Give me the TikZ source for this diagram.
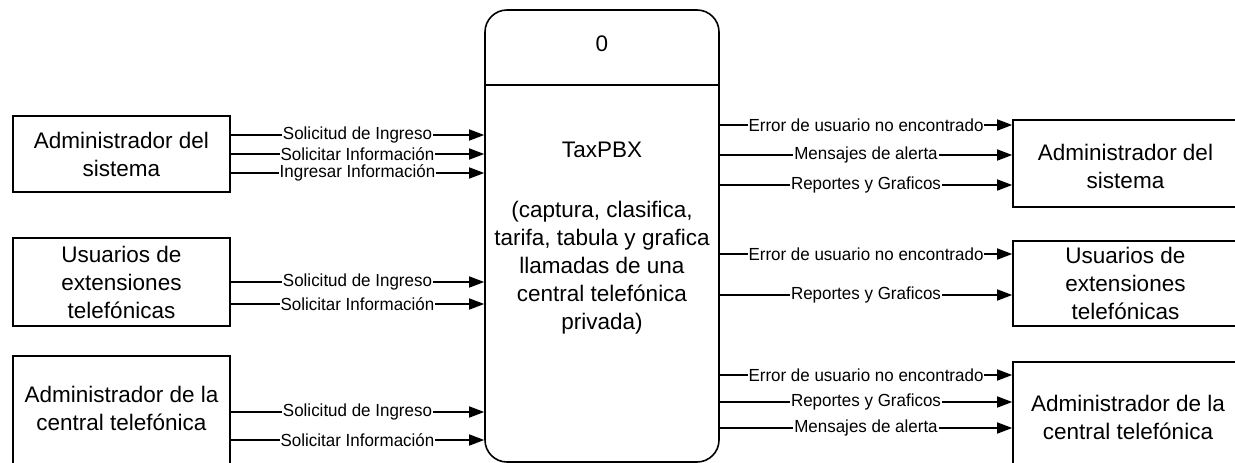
\documentclass[tikz,border=0pt]{standalone}
\usepackage{fontspec}
\setmainfont{Liberation Sans}
\newfontfamily\narrowfont[FakeStretch=0.97]{Liberation Sans}
\usetikzlibrary{arrows.meta}
\begin{document}
\begin{tikzpicture}[x=1pt,y=-1pt,
  ent/.style={draw, line width=1.6pt, inner sep=0pt, align=center,
    font=\fontsize{22.5}{28}\selectfont},
  txt/.style={inner sep=0pt, align=center, font=\fontsize{22.5}{28}\selectfont},
  lbl/.style={fill=white, inner xsep=1pt, inner ysep=0pt, font=\narrowfont\fontsize{17.5}{18}\selectfont},
  flow/.style={line width=1.6pt, -{Triangle[length=15pt,width=11pt]}}
]
\clip (0,0) rectangle (1235,463);
\fill[white] (0,0) rectangle (1235,463);

% process
\node (p) [draw, line width=1.6pt, rounded corners=22pt, minimum width=234pt, minimum height=452pt, inner sep=0pt] at (602,236) {};
\draw[line width=1.6pt] (p.west |- 0,85) -- (p.east |- 0,85);
\node (pid) [txt] at (602,44) {0};
\node (pname) [txt] at (602,150) {TaxPBX};
\node (pdesc) [txt] at (602,268) {(captura, clasifica,\\tarifa, tabula y grafica\\llamadas de una\\central telefónica\\privada)};

% left entities
\node (l1) [ent, minimum width=217pt, minimum height=76pt] at (121.5,154) {Administrador del\\sistema};
\node (l2) [ent, minimum width=217pt, minimum height=88pt] at (121.5,282) {Usuarios de\\extensiones\\telefónicas};
\node (l3) [ent, minimum width=217pt, minimum height=130pt] at (121.5,421) {};
\node (l3t) [txt] at (121.5,408) {Administrador de la\\central telefónica};

% right entities
\node (r1) [ent, minimum width=225pt, minimum height=87pt] at (1125.5,163.5) {};
\node (r1t) [txt] at (1125.5,166) {Administrador del\\sistema};
\node (r2) [ent, minimum width=225pt, minimum height=85pt] at (1125.5,283.5) {Usuarios de\\extensiones\\telefónicas};
\node (r3) [ent, minimum width=225pt, minimum height=130pt] at (1125.5,427) {};
\node (r3t) [txt] at (1128,417) {Administrador de la\\central telefónica};

% left flows
\draw[flow] (l1.east |- 0,135) -- (p.west |- 0,135) node[midway,lbl] {Solicitud de Ingreso};
\draw[flow] (l1.east |- 0,154) -- (p.west |- 0,154) node[midway,lbl] {Solicitar Información};
\draw[flow] (l1.east |- 0,173) -- (p.west |- 0,173) node[midway,lbl] {Ingresar Información};
\draw[flow] (l2.east |- 0,282) -- (p.west |- 0,282) node[midway,lbl] {Solicitud de Ingreso};
\draw[flow] (l2.east |- 0,304) -- (p.west |- 0,304) node[midway,lbl] {Solicitar Información};
\draw[flow] (l3.east |- 0,412) -- (p.west |- 0,412) node[midway,lbl] {Solicitud de Ingreso};
\draw[flow] (l3.east |- 0,440) -- (p.west |- 0,440) node[midway,lbl] {Solicitar Información};

% right flows
\draw[flow] (p.east |- 0,125) -- (r1.west |- 0,125) node[midway,lbl] {Error de usuario no encontrado};
\draw[flow] (p.east |- 0,155) -- (r1.west |- 0,155) node[midway,lbl] {Mensajes de alerta};
\draw[flow] (p.east |- 0,185) -- (r1.west |- 0,185) node[midway,lbl] {Reportes y Graficos};
\draw[flow] (p.east |- 0,254) -- (r2.west |- 0,254) node[midway,lbl] {Error de usuario no encontrado};
\draw[flow] (p.east |- 0,295) -- (r2.west |- 0,295) node[midway,lbl] {Reportes y Graficos};
\draw[flow] (p.east |- 0,375) -- (r3.west |- 0,375) node[midway,lbl] {Error de usuario no encontrado};
\draw[flow] (p.east |- 0,402) -- (r3.west |- 0,402) node[midway,lbl] {Reportes y Graficos};
\draw[flow] (p.east |- 0,428) -- (r3.west |- 0,428) node[midway,lbl] {Mensajes de alerta};
\end{tikzpicture}
\end{document}
